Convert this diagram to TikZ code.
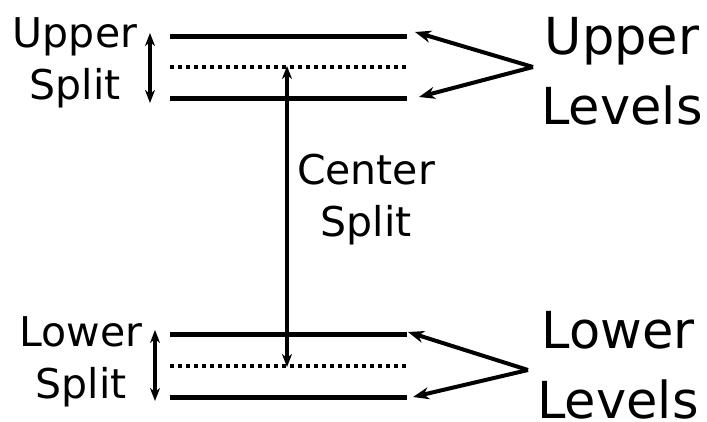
\documentclass[tikz,border=0pt]{standalone}
\usepackage{fontspec}
\setmainfont{DejaVu Sans}
\usetikzlibrary{arrows.meta}
\begin{document}
\begin{tikzpicture}[x=1pt,y=-1pt,
  level/.style={line width=5pt},
  sublevel/.style={line width=4pt,dash pattern=on 4pt off 4pt},
  splitarrow/.style={line width=3.5pt,{Stealth[length=13pt,width=10pt,inset=4pt]}-{Stealth[length=13pt,width=10pt,inset=4pt]}},
  ptr/.style={line width=4pt,-{Stealth[length=16pt,width=12pt,inset=5pt]}},
  small/.style={font=\fontsize{41}{52}\selectfont,align=center,inner sep=0pt,anchor=base},
  big/.style={font=\fontsize{51}{70}\selectfont,align=center,inner sep=0pt,text depth=0pt,anchor=base}]
\useasboundingbox (0,0) rectangle (707,422);
% upper levels
\coordinate (u1l) at (170,37);  \coordinate (u1r) at (407,37);
\coordinate (u0l) at (170,67);  \coordinate (u0r) at (407,67);
\coordinate (u2l) at (170,99);  \coordinate (u2r) at (407,99);
\draw[level] (u1l) -- (u1r);
\draw[sublevel] (u0l) -- (u0r);
\draw[level] (u2l) -- (u2r);
% lower levels
\coordinate (l1l) at (170,334); \coordinate (l1r) at (407,334);
\coordinate (l0l) at (170,366); \coordinate (l0r) at (407,366);
\coordinate (l2l) at (170,397); \coordinate (l2r) at (407,397);
\draw[level] (l1l) -- (l1r);
\draw[sublevel] (l0l) -- (l0r);
\draw[level] (l2l) -- (l2r);
% split arrows
\coordinate (usa) at (150,33); \coordinate (usb) at (150,103);
\draw[splitarrow] (usa) -- (usb);
\coordinate (lsa) at (155,330); \coordinate (lsb) at (155,401);
\draw[splitarrow] (lsa) -- (lsb);
\coordinate (csa) at (287,66); \coordinate (csb) at (287,367);
\draw[splitarrow] (csa) -- (csb);
% pointers
\coordinate (uapex) at (533,67);
\coordinate (ut1) at (415,32); \coordinate (ut2) at (419,97);
\draw[ptr] (uapex) -- (ut1);
\draw[ptr] (uapex) -- (ut2);
\coordinate (lapex) at (528,370);
\coordinate (lt1) at (408,332); \coordinate (lt2) at (413,397);
\draw[ptr] (lapex) -- (lt1);
\draw[ptr] (lapex) -- (lt2);
% labels (base anchor = baseline of the last line)
\node[small] (uslabel) at (75,100) {Upper\\Split};
\node[small] (lslabel) at (81,398) {Lower\\Split};
\node[small] (cslabel) at (366,237) {Center\\Split};
\node[big] (ullabel) at (622,125) {Upper\\Levels};
\node[big] (lllabel) at (618,418) {Lower\\Levels};
\end{tikzpicture}
\end{document}
